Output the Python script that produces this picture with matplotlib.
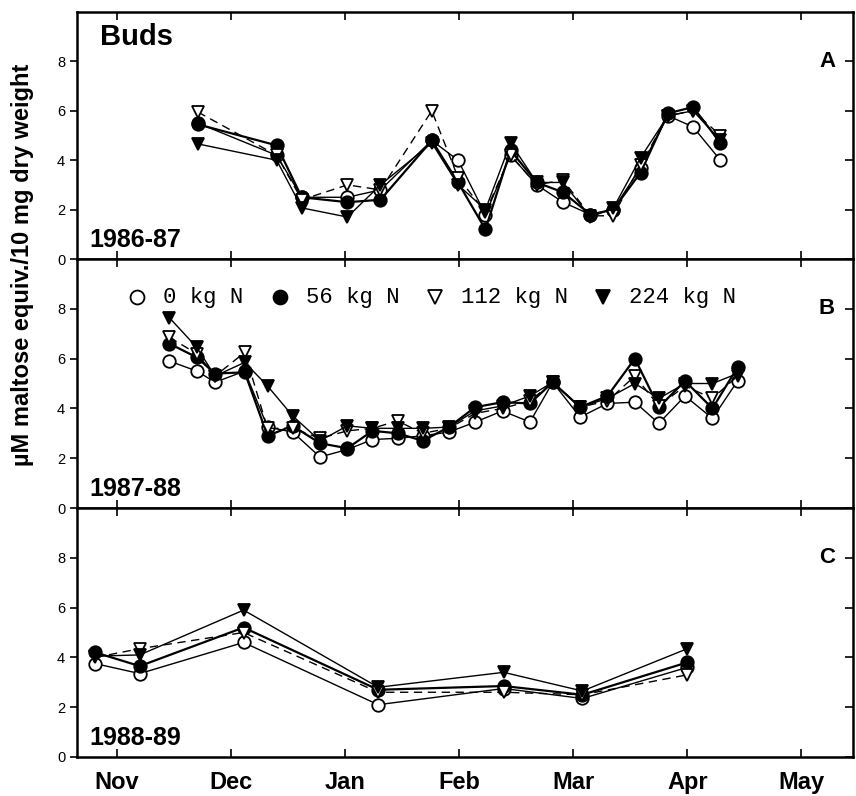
import numpy as np
import matplotlib.pyplot as plt

plt.rcParams['font.family'] = ['Liberation Sans', 'DejaVu Sans']

# x positions are in months after the start of November (Nov = 0)
months = ["Nov", "Dec", "Jan", "Feb", "Mar", "Apr", "May"]

# --- 1986-87 ---
x_a = [0.71, 1.40, 1.62, 2.02, 2.31, 2.76, 2.99, 3.23, 3.45, 3.68, 3.91,
       4.15, 4.35, 4.59, 4.83, 5.05, 5.29]
a_n0 = [5.5, 4.2, 2.5, 2.5, 2.8, 4.8, 4.0, 1.8, 4.2, 3.0, 2.3, 1.8, 2.0,
        3.7, 5.8, 5.35, 4.0]
a_n56 = [5.45, 4.6, 2.5, 2.3, 2.4, 4.8, 3.1, 1.2, 4.4, 3.1, 2.7, 1.8, 2.0,
         3.5, 5.9, 6.15, 4.7]
a_n112 = [5.95, 4.2, 2.4, 3.0, 2.8, 6.0, 3.3, 1.9, 4.2, 3.0, 3.2, 1.75,
          1.75, 3.8, 5.8, 6.0, 5.0]
a_n224 = [4.66, 4.0, 2.07, 1.7, 3.0, 4.7, 3.0, 2.0, 4.7, 3.1, 3.1, 1.7,
          2.05, 4.1, 5.8, 6.0, 4.8]

# --- 1987-88 ---
x_b = [0.46, 0.70, 0.86, 1.12, 1.32, 1.54, 1.78, 2.02, 2.24, 2.46, 2.68,
       2.91, 3.14, 3.38, 3.62, 3.82, 4.06, 4.30, 4.54, 4.75, 4.98, 5.22, 5.44]
b_n0 = [5.9, 5.5, 5.05, 5.5, 3.25, 3.05, 2.05, 2.35, 2.75, 2.8, 2.9, 3.05,
        3.45, 3.9, 3.45, 5.05, 3.65, 4.2, 4.25, 3.4, 4.5, 3.6, 5.1]
b_n56 = [6.6, 6.05, 5.4, 5.45, 2.9, 3.3, 2.6, 2.4, 3.1, 3.0, 2.7, 3.25,
         4.05, 4.25, 4.2, 5.05, 4.05, 4.5, 6.0, 4.05, 5.1, 4.0, 5.65]
b_n112 = [6.85, 6.2, 5.3, 6.25, 3.2, 3.2, 2.8, 3.1, 3.2, 3.5, 3.0, 3.2,
          3.8, 4.0, 4.3, 5.05, 4.05, 4.3, 5.3, 4.1, 4.9, 4.4, 5.3]
b_n224 = [7.64, 6.45, 5.3, 5.85, 4.9, 3.7, 2.7, 3.3, 3.2, 3.2, 3.2, 3.25,
          3.9, 4.1, 4.5, 5.05, 4.05, 4.4, 5.0, 4.4, 5.0, 5.0, 5.4]

# --- 1988-89 ---
x_c = [-0.19, 0.20, 1.11, 2.29, 3.39, 4.08, 5.00]
c_n0 = [3.75, 3.35, 4.6, 2.1, 2.75, 2.35, 3.6]
c_n56 = [4.2, 3.65, 5.2, 2.7, 2.85, 2.5, 3.8]
c_n112 = [4.0, 4.35, 5.0, 2.6, 2.6, 2.5, 3.3]
c_n224 = [4.05, 4.1, 5.9, 2.8, 3.4, 2.65, 4.35]

panels = [
    (x_a, [a_n0, a_n56, a_n112, a_n224], "A", "1986-87"),
    (x_b, [b_n0, b_n56, b_n112, b_n224], "B", "1987-88"),
    (x_c, [c_n0, c_n56, c_n112, c_n224], "C", "1988-89"),
]

# marker, fill, line style per nitrogen rate
styles = [
    dict(marker="o", mfc="white", ls="-", lw=1.0),
    dict(marker="o", mfc="black", ls="-", lw=1.6),
    dict(marker="v", mfc="white", ls=(0, (6, 4)), lw=1.0),
    dict(marker="v", mfc="black", ls="-", lw=1.0),
]
labels = ["0 kg N", "56 kg N", "112 kg N", "224 kg N"]

fig = plt.figure(figsize=(8.56, 7.96), dpi=100)
left, width = 0.090, 0.907
bottoms = [0.6746, 0.3618, 0.0490]
heights = [0.3103, 0.3128, 0.3128]

axes = []
for i, (xs, series, letter, season) in enumerate(panels):
    ax = fig.add_axes([left, bottoms[i], width, heights[i]])
    axes.append(ax)
    for ys, st in zip(series, styles):
        ax.plot(xs, ys, color="black", marker=st["marker"], mfc=st["mfc"],
                mec="black", mew=1.3, ms=9, ls=st["ls"], lw=st["lw"])
    ax.set_xlim(-0.35, 6.456)
    ax.set_ylim(0, 10)
    ax.set_yticks([0, 2, 4, 6, 8])
    ax.set_xticks(range(len(months)))
    ax.tick_params(axis="x", direction="in", top=True, length=6, width=1.2,
                   pad=10)
    ax.tick_params(axis="y", direction="out", length=5, width=1.2,
                   labelsize=10.5, right=True)
    for s in ax.spines.values():
        s.set_linewidth(1.8)
    if i < 2:
        ax.set_xticklabels([])
    else:
        ax.set_xticklabels(months, fontsize=17, fontweight="bold")
    ax.text(0.966, 0.80, letter, transform=ax.transAxes, fontsize=16,
            fontweight="bold", ha="center", va="center")
    ax.text(0.016, 0.075, season, transform=ax.transAxes, fontsize=18,
            fontweight="bold", ha="left", va="center")

axes[0].text(0.030, 0.90, "Buds", transform=axes[0].transAxes, fontsize=21,
             fontweight="bold", ha="left", va="center")

# right-side y ticks point inward
for ax in axes:
    for t in ax.yaxis.get_major_ticks():
        t.tick2line.set_marker(0)
        t.tick2line.set_markersize(6)

# key row across the top of the middle panel
key_x = [0.0773, 0.2616, 0.4613, 0.678]
key_y = 0.847
for kx, st, lab in zip(key_x, styles, labels):
    axes[1].plot([kx], [key_y], transform=axes[1].transAxes, ls="none",
                 marker=st["marker"], mfc=st["mfc"], mec="black", mew=1.3,
                 ms=10, color="black", clip_on=False)
    axes[1].text(kx + 0.033, key_y, lab, transform=axes[1].transAxes,
                 family="Liberation Mono", fontsize=16, ha="left",
                 va="center")

fig.text(0.026, 0.667, "\u00b5M maltose equiv./10 mg dry weight",
         rotation=90, fontsize=17, fontweight="bold", ha="center",
         va="center")

fig.savefig("out.png", dpi=100)
